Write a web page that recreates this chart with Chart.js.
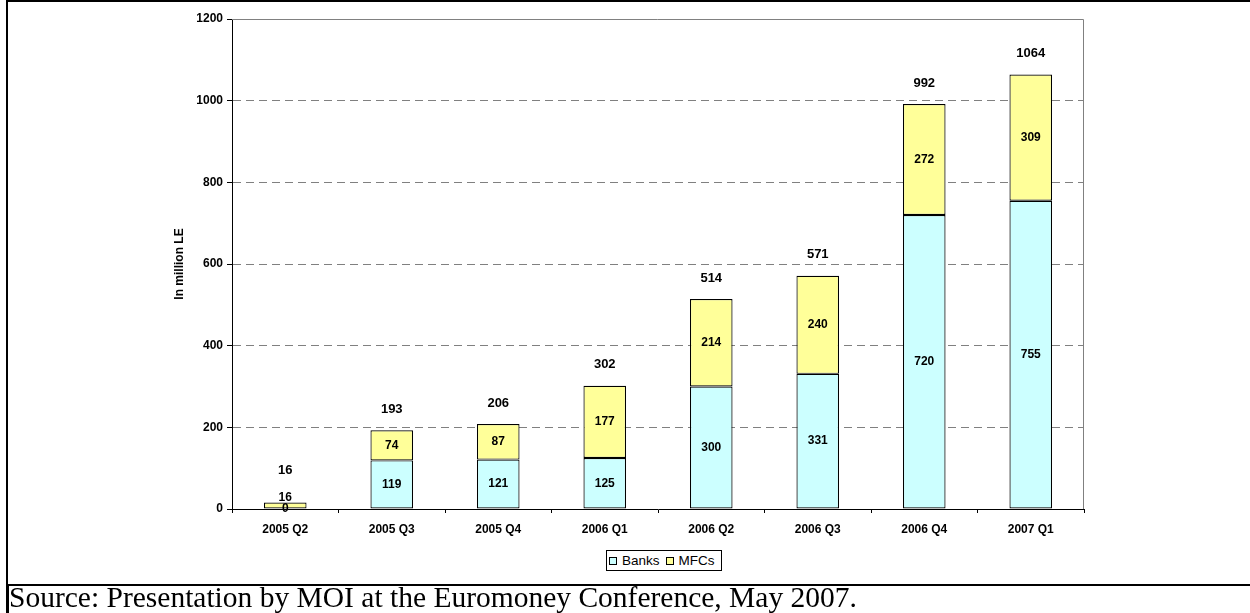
<!DOCTYPE html>
<html>
<head>
<meta charset="utf-8">
<title>Microfinance lending, in million LE</title>
<script src="https://cdn.jsdelivr.net/npm/chart.js@4/dist/chart.umd.min.js"></script>
<style>
  html, body { margin: 0; padding: 0; background: #fff; }
  body { width: 1250px; height: 613px; position: relative; overflow: hidden; }
  #frame {
    position: absolute; left: 6px; top: 0; width: 1244px; height: 586px;
    border-left: 2.5px solid #000; border-top: 2.5px solid #000; border-bottom: 2.5px solid #000;
    box-sizing: border-box;
  }
  #frame-low { position: absolute; left: 6px; top: 586px; width: 2.5px; height: 27px; background: #000; }
  #chart-canvas { position: absolute; left: 0; top: 0; }
  #legend {
    position: absolute; left: 606px; top: 550px; width: 116px; height: 21px;
    border: 1px solid #000; box-sizing: border-box; padding: 0 0 0 2px;
    display: flex; align-items: center; background: #fff;
    font: 13.5px "Liberation Sans", Arial, sans-serif; color: #000;
  }
  #legend span.box { display: inline-block; width: 6px; height: 6px; border: 1px solid #000; margin-right: 5px; }
  #legend span.item { display: inline-flex; align-items: center; margin-right: 6px; }
  #source {
    position: absolute; left: 9px; top: 581px; line-height: 29px;
    font: 29.5px "Liberation Serif", "Times New Roman", serif; color: #000; white-space: nowrap;
  }
</style>
</head>
<body>
<div id="frame"></div>
<div id="frame-low"></div>
<canvas id="chart-canvas" width="1250" height="584"></canvas>
<div id="legend"></div>
<div id="source">Source: Presentation by MOI at the Euromoney Conference, May 2007.</div>
<script>
const quarters = ['2005 Q2', '2005 Q3', '2005 Q4', '2006 Q1', '2006 Q2', '2006 Q3', '2006 Q4', '2007 Q1'];
const banks = [0, 119, 121, 125, 300, 331, 720, 755];
const mfcs = [16, 74, 87, 177, 214, 240, 272, 309];
// totals as printed above each stack
const totals = [16, 193, 206, 302, 514, 571, 992, 1064];

const y_ticks = [0, 200, 400, 600, 800, 1000, 1200];

const font_family = '"Liberation Sans", Arial, sans-serif';

// gray frame on top and right of the plot area
const plotFrame = {
  id: 'plotFrame',
  beforeDatasetsDraw(chart) {
    const { ctx, chartArea: a } = chart;
    ctx.save();
    ctx.strokeStyle = '#808080';
    ctx.lineWidth = 1;
    ctx.beginPath();
    ctx.moveTo(a.left, a.top + 0.5);
    ctx.lineTo(a.right - 0.5, a.top + 0.5);
    ctx.lineTo(a.right - 0.5, a.bottom);
    ctx.stroke();
    ctx.restore();
  }
};

// value labels inside each segment plus the stack total above
const valueLabels = {
  id: 'valueLabels',
  afterDatasetsDraw(chart) {
    const { ctx } = chart;
    const banksMeta = chart.getDatasetMeta(0);
    const mfcsMeta = chart.getDatasetMeta(1);
    ctx.save();
    ctx.fillStyle = '#000';
    ctx.textAlign = 'center';
    ctx.textBaseline = 'middle';
    quarters.forEach((q, i) => {
      const b = banksMeta.data[i];
      const m = mfcsMeta.data[i];
      const by = (b.y + b.base) / 2;
      let my = (m.y + m.base) / 2;
      if (Math.abs(my - by) < 12) my = by - 11;
      ctx.font = 'bold 12px ' + font_family;
      ctx.fillText(String(banks[i]), b.x, by);
      ctx.fillText(String(mfcs[i]), m.x, my);

      const ty = Math.min(m.y - 21, my - 28);
      ctx.font = 'bold 13px ' + font_family;
      ctx.fillText(String(totals[i]), m.x, ty);
    });
    ctx.restore();
  }
};

const chart = new Chart(document.getElementById('chart-canvas'), {
  type: 'bar',
  data: {
    labels: quarters,
    datasets: [
      {
        label: 'Banks',
        data: banks,
        backgroundColor: '#CCFFFF',
        borderColor: '#000',
        borderWidth: 1.2,
        borderSkipped: false,
        barPercentage: 0.4,
        categoryPercentage: 1
      },
      {
        label: 'MFCs',
        data: mfcs,
        backgroundColor: '#FFFF99',
        borderColor: '#000',
        borderWidth: 1.2,
        borderSkipped: false,
        barPercentage: 0.4,
        categoryPercentage: 1
      }
    ]
  },
  options: {
    responsive: false,
    animation: false,
    layout: { padding: { top: 19, right: 166, bottom: 0, left: 0 } },
    plugins: {
      legend: { display: false },
      tooltip: { enabled: false }
    },
    scales: {
      x: {
        stacked: true,
        afterFit: scale => { scale.height = 75; },
        grid: {
          drawOnChartArea: false,
          offset: true,
          tickLength: 4,
          color: '#000'
        },
        border: { color: '#000', width: 1 },
        ticks: {
          color: '#000',
          padding: 9,
          font: { family: font_family, size: 12, weight: 'bold' },
          maxRotation: 0
        }
      },
      y: {
        stacked: true,
        min: 0,
        max: 1200,
        afterFit: scale => { scale.width = 232; },
        afterBuildTicks: scale => { scale.ticks = y_ticks.map(v => ({ value: v })); },
        grid: {
          color: ctx => (ctx.tick && (ctx.tick.value === 0 || ctx.tick.value === 1200)) ? 'rgba(0,0,0,0)' : '#808080',
          tickColor: '#000',
          tickLength: 5,
          lineWidth: 1
        },
        border: { color: '#000', width: 1, dash: [8, 5] },
        ticks: {
          color: '#000',
          padding: 4,
          font: { family: font_family, size: 12, weight: 'bold' },
          callback: v => String(v)
        },
        title: {
          display: true,
          text: 'In million LE',
          color: '#000',
          padding: { top: 172 },
          font: { family: font_family, size: 12, weight: 'bold' }
        }
      }
    }
  },
  plugins: [plotFrame, valueLabels]
});

// legend built from the datasets
const legend = document.getElementById('legend');
chart.data.datasets.forEach(ds => {
  const item = document.createElement('span');
  item.className = 'item';
  const box = document.createElement('span');
  box.className = 'box';
  box.style.background = ds.backgroundColor;
  item.appendChild(box);
  item.appendChild(document.createTextNode(ds.label));
  legend.appendChild(item);
});
</script>
</body>
</html>
